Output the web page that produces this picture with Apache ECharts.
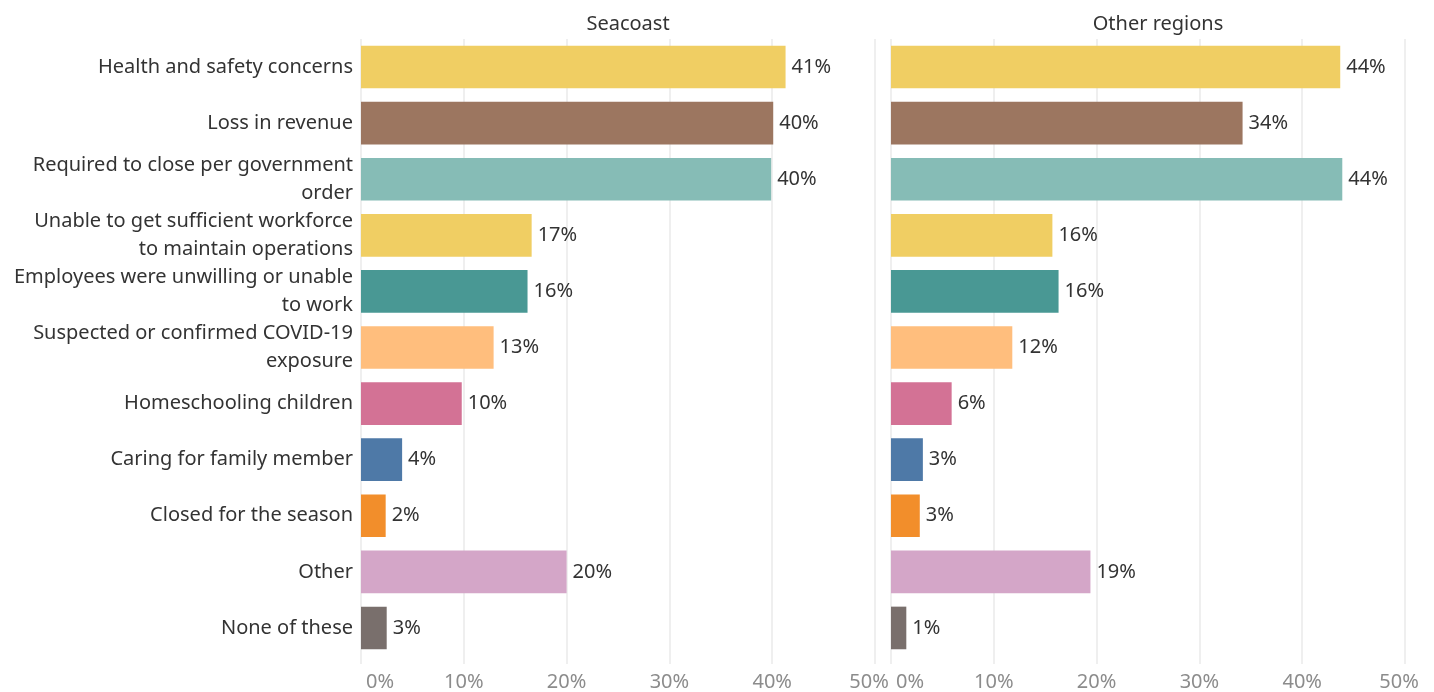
<!DOCTYPE html>
<html>
<head>
<meta charset="utf-8">
<script src="https://cdn.jsdelivr.net/npm/echarts@6/dist/echarts.min.js"></script>
<style>
  html, body { margin: 0; padding: 0; background: #fff; }
  #chart { width: 1434px; height: 692px; }
</style>
</head>
<body>
<div id="chart"></div>
<script>
// reasons for closing, top to bottom (line breaks as in the original labels)
var categories = [
  'Health and safety concerns',
  'Loss in revenue',
  'Required to close per government\norder',
  'Unable to get sufficient workforce\nto maintain operations',
  'Employees were unwilling or unable\nto work',
  'Suspected or confirmed COVID-19\nexposure',
  'Homeschooling children',
  'Caring for family member',
  'Closed for the season',
  'Other',
  'None of these'
]
var panelTitles = ['Seacoast', 'Other regions']
var seacoast = [41.3, 40.1, 39.9, 16.6, 16.2, 12.9, 9.8, 4.0, 2.4, 20.0, 2.5]
var otherRegions = [43.7, 34.2, 43.9, 15.7, 16.3, 11.8, 5.9, 3.1, 2.8, 19.4, 1.49]
var barColors = ['#f0ce63', '#9c7660', '#86bcb6', '#f0ce63', '#499894', '#ffbe7d',
  '#d37295', '#4e79a7', '#f28e2b', '#d4a6c8', '#796f6c']
var ticks = [0, 10, 20, 30, 40, 50]

var font = 'Noto Sans'
var chart = echarts.init(document.getElementById('chart'))

function xAx(idx) {
  return {
    gridIndex: idx,
    type: 'value',
    min: ticks[0],
    max: ticks[ticks.length - 1],
    interval: 10,
    axisLine: { show: false },
    axisTick: { show: true, length: 8, lineStyle: { color: '#efefef', width: 2 } },
    axisLabel: {
      color: '#8c8c8c',
      fontFamily: font,
      fontSize: 20,
      margin: 16,
      alignMinLabel: 'left',
      formatter: function (v) {
        if (v === ticks[0]) return '{lo|' + v + '%}'
        if (v === ticks[ticks.length - 1]) return '{hi|' + v + '%}'
        return v + '%'
      },
      rich: {
        lo: { color: '#8c8c8c', fontFamily: font, fontSize: 20, padding: [0, 0, 0, 5] },
        hi: { color: '#8c8c8c', fontFamily: font, fontSize: 20, padding: [0, 12, 0, 0] }
      }
    },
    splitLine: { lineStyle: { color: '#efefef', width: 2 } }
  }
}

function yAx(idx, showLabel) {
  return {
    gridIndex: idx,
    type: 'category',
    data: categories,
    inverse: true,
    axisLine: { show: false },
    axisTick: { show: false },
    axisLabel: {
      show: showLabel,
      color: '#333',
      fontFamily: font,
      fontSize: 20,
      lineHeight: 28,
      align: 'right',
      margin: 8
    }
  }
}

function barSeries(idx, values) {
  return {
    type: 'bar',
    xAxisIndex: idx,
    yAxisIndex: idx,
    data: values,
    barCategoryGap: '24%',
    itemStyle: {
      color: function (p) { return barColors[p.dataIndex] }
    },
    label: {
      show: true,
      position: 'right',
      distance: 6,
      color: '#333',
      fontFamily: font,
      fontSize: 20,
      formatter: function (p) { return Math.round(p.value) + '%' }
    },
    animation: false
  }
}

chart.setOption({
  backgroundColor: '#fff',
  title: [
    { text: panelTitles[0], left: 623, top: 9, textAlign: 'center',
      textStyle: { color: '#333', fontFamily: font, fontSize: 20, fontWeight: 'normal' } },
    { text: panelTitles[1], left: 1153, top: 9, textAlign: 'center',
      textStyle: { color: '#333', fontFamily: font, fontSize: 20, fontWeight: 'normal' } }
  ],
  grid: [
    { left: 361, width: 514, top: 39, height: 619 },
    { left: 891, width: 514, top: 39, height: 619 }
  ],
  xAxis: [xAx(0), xAx(1)],
  yAxis: [yAx(0, true), yAx(1, false)],
  series: [barSeries(0, seacoast), barSeries(1, otherRegions)]
})
</script>
</body>
</html>
